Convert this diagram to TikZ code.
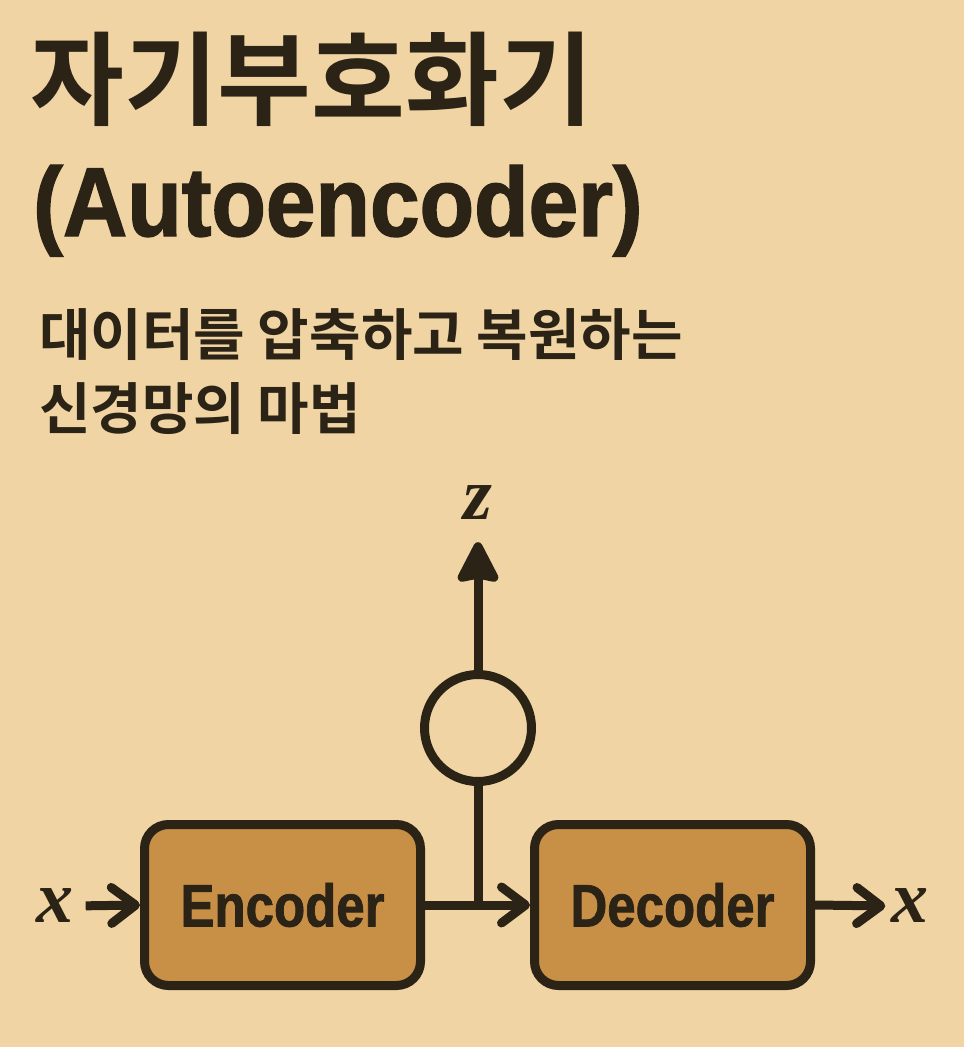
\documentclass[tikz,border=0pt]{standalone}
\usepackage{fontspec}
\usetikzlibrary{arrows.meta}
\newfontfamily\krtitle{Noto Sans CJK KR Bold}[FakeStretch=1.0]
\newfontfamily\krsub{Noto Sans CJK KR Bold}[FakeStretch=1.0]
\newfontfamily\lattitle{Liberation Sans Bold}[FakeStretch=0.91,FakeBold=1.5]
\newfontfamily\latbox{Liberation Sans Bold}[FakeStretch=0.85,FakeBold=1.2]
\newfontfamily\varfont{Liberation Serif Bold Italic}
\definecolor{bgc}{HTML}{F0D4A4}
\definecolor{ink}{HTML}{2A2316}
\definecolor{boxc}{HTML}{C88F47}
\begin{document}
\begin{tikzpicture}[x=1pt,y=-1pt,
  blk/.style={draw=ink, fill=boxc, line width=9pt, rounded corners=24pt,
    minimum width=276pt, minimum height=161pt, inner sep=0pt,
    font=\latbox\fontsize{60}{66}\selectfont, text=ink},
  latent/.style={circle, draw=ink, fill=bgc, line width=9pt, minimum size=107pt, inner sep=0pt},
  var/.style={inner sep=0pt, text=ink, font=\varfont\fontsize{74}{80}\selectfont},
  flow/.style={draw=ink, line width=9pt, -{Straight Barb[length=24pt,width=36pt,line cap=round,line join=round]}},
  up/.style={draw=ink, line width=9pt, -{Stealth[length=46pt,width=46pt,inset=4pt,round]}},
  wire/.style={draw=ink, line width=9pt}
]
\fill[bgc] (0,0) rectangle (964,1047);
\useasboundingbox (0,0) rectangle (964,1047);

\node[anchor=base west, inner sep=0pt, text=ink, font=\krtitle\fontsize{102}{110}\selectfont] (title) at (30,117) {자기부호화기};
\node[anchor=base west, inner sep=0pt, text=ink, font=\lattitle\fontsize{98}{108}\selectfont] (titleen) at (33,236) {(Autoencoder)};
\node[anchor=base west, inner sep=0pt, text=ink, font=\krsub\fontsize{56}{60}\selectfont] (sub1) at (39,355) {대이터를 압축하고 복원하는};
\node[anchor=base west, inner sep=0pt, text=ink, font=\krsub\fontsize{56}{60}\selectfont] (sub2) at (39,429) {신경망의 마법};

\node[blk] (enc) at (282.5,905) {Encoder};
\node[blk] (dec) at (672.5,905) {Decoder};
\node[latent] (lat) at (478,728) {};
\node[var] (xin) at (55,906) {x};
\node[var] (xout) at (910,906) {x};
\node[var] (z) at (478,503) {z};
\coordinate (j) at (478,905);

\draw[flow, shorten <=12pt] (xin.east) -- (enc.west);
\draw[flow] (enc.east) -- (dec.west);
\draw[wire] (j) -- (lat.south);
\draw[up, shorten >=22pt] (lat.north) -- (z.south);
\draw[flow, shorten >=6pt] (dec.east) -- (xout.west);
\end{tikzpicture}
\end{document}
